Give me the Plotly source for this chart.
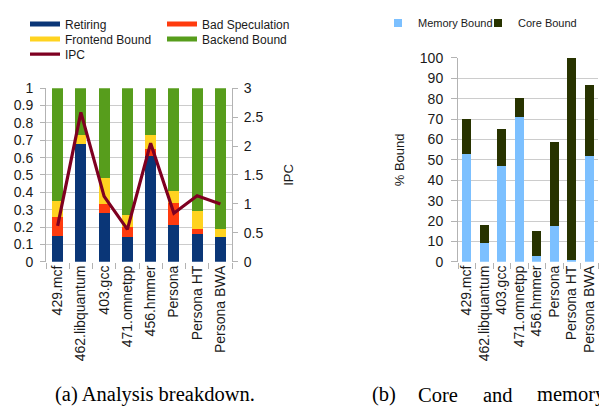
import plotly.graph_objects as go

W, H = 607, 410
# the page body adds an 8px margin; positions below are given in window pixels
OX, OY = 8, 8


def px(x):
    return (x - OX) / W


def py(y):
    return 1 - (y - OY) / H


categories = ["429.mcf", "462.libquantum", "403.gcc", "471.omnetpp",
              "456.hmmer", "Persona", "Persona HT", "Persona BWA"]

# (a) analysis breakdown (fractions, stacked to 1)
retiring = [0.15, 0.68, 0.28, 0.14, 0.61, 0.21, 0.16, 0.145]
bad_speculation = [0.11, 0.0, 0.05, 0.06, 0.04, 0.13, 0.03, 0.0]
frontend_bound = [0.09, 0.05, 0.15, 0.07, 0.08, 0.07, 0.10, 0.045]
backend_bound = [0.65, 0.27, 0.52, 0.73, 0.27, 0.59, 0.71, 0.81]
ipc = [0.62, 2.58, 1.13, 0.56, 2.05, 0.84, 1.14, 1.0]

# (b) core and memory bound (%)
memory_bound = [53, 9, 47, 71, 3, 17.5, 1, 52]
core_bound = [17, 9, 18, 9.5, 12, 41.5, 99, 34.5]

C_RET = "#0a3677"
C_BAD = "#ff3b0e"
C_FRONT = "#ffd320"
C_BACK = "#579d1c"
C_IPC = "#7e0021"
C_MEM = "#7cc0ff"
C_CORE = "#283300"

FONT = "Liberation Sans"
TXT = "#1a1a1a"
GRID = "#cccccc"
LINE = "#b3b3b3"

fig = go.Figure()

for name, vals, col in [("Retiring", retiring, C_RET),
                        ("Bad Speculation", bad_speculation, C_BAD),
                        ("Frontend Bound", frontend_bound, C_FRONT),
                        ("Backend Bound", backend_bound, C_BACK)]:
    fig.add_trace(go.Bar(x=categories, y=vals, name=name, marker_color=col,
                         marker_line_width=0, width=0.47, showlegend=False,
                         xaxis="x", yaxis="y"))

fig.add_trace(go.Scatter(x=categories, y=ipc, name="IPC", mode="lines",
                         line=dict(color=C_IPC, width=3.2),
                         xaxis="x", yaxis="y2", legend="legend5"))

leg_items = [("Retiring", C_RET, "legend"),
             ("Bad Speculation", C_BAD, "legend2"),
             ("Frontend Bound", C_FRONT, "legend3"),
             ("Backend Bound", C_BACK, "legend4")]
for name, col, lg in leg_items:
    fig.add_trace(go.Scatter(x=[None], y=[None], mode="lines", name=name,
                             line=dict(color=col, width=5), legend=lg,
                             xaxis="x", yaxis="y"))

fig.add_trace(go.Bar(x=categories, y=memory_bound, name="Memory Bound",
                     marker_color=C_MEM, marker_line_width=0, width=0.51,
                     showlegend=False, xaxis="x2", yaxis="y3"))
fig.add_trace(go.Bar(x=categories, y=core_bound, name="Core Bound",
                     marker_color=C_CORE, marker_line_width=0, width=0.51,
                     showlegend=False, xaxis="x2", yaxis="y3"))
for name, col, lg in [("Memory Bound", C_MEM, "legend6"),
                      ("Core Bound", C_CORE, "legend7")]:
    fig.add_trace(go.Scatter(x=[None], y=[None], mode="markers", name=name,
                             marker=dict(color=col, symbol="square", size=8),
                             legend=lg, xaxis="x2", yaxis="y3"))


def leg(text_x, text_y, size):
    # legend text starts 40px right of the legend anchor (plus page margin)
    return dict(x=(text_x - 48) / W, y=1 - (text_y - 18) / H,
                xanchor="left", yanchor="middle",
                orientation="h", bgcolor="rgba(0,0,0,0)", borderwidth=0,
                font=dict(family=FONT, size=size, color=TXT), itemwidth=30)


ytop_a = 77
ybot = 261
ytop_b = 45

fig.update_layout(
    width=W, height=H, margin=dict(l=0, r=0, t=0, b=0),
    paper_bgcolor="white", plot_bgcolor="white",
    barmode="stack", bargap=0.5,
    font=dict(family=FONT, color=TXT),
    legend=leg(65, 19, 12),
    legend2=leg(202, 19, 12),
    legend3=leg(65, 35, 12),
    legend4=leg(202, 35, 12),
    legend5=leg(65, 51, 12),
    legend6=leg(418, 18, 11),
    legend7=leg(518, 18, 11),
    xaxis=dict(domain=[px(46), px(232)], anchor="y", type="category",
               tickangle=-90, tickson="boundaries", ticks="outside",
               ticklen=6, tickcolor=LINE, showgrid=False, showline=False,
               tickfont=dict(size=14, family=FONT, color=TXT)),
    yaxis=dict(domain=[py(ybot), py(ytop_a)], anchor="x",
               range=[0, 1], dtick=0.1, ticks="outside", ticklen=5,
               tickcolor=LINE, showgrid=True, gridcolor=GRID, gridwidth=1,
               showline=True, linecolor=LINE, zeroline=False,
               ticklabelstandoff=4,
               tickfont=dict(size=14, family=FONT, color=TXT)),
    yaxis2=dict(overlaying="y", side="right", anchor="x", range=[0, 3],
                dtick=0.5, ticks="outside", ticklen=5, tickcolor=LINE,
                showgrid=False, showline=True, linecolor=LINE,
                zeroline=False, ticklabelstandoff=3,
                tickfont=dict(size=14, family=FONT, color=TXT),
                title=dict(text="IPC", standoff=21,
                           font=dict(size=13, family=FONT, color=TXT))),
    xaxis2=dict(domain=[px(458), px(598)], anchor="y3", type="category",
                tickangle=-90, tickson="boundaries", ticks="outside",
                ticklen=6, tickcolor=LINE, showgrid=False, showline=False,
                tickfont=dict(size=14, family=FONT, color=TXT)),
    yaxis3=dict(domain=[py(ybot), py(ytop_b)], anchor="x2",
                range=[0, 100], dtick=10, ticks="outside", ticklen=6,
                tickcolor=LINE, showgrid=True, gridcolor=GRID,
                showline=True, linecolor=LINE, zeroline=False,
                ticklabelstandoff=5,
                tickfont=dict(size=14, family=FONT, color=TXT),
                title=dict(text="% Bound", standoff=12,
                           font=dict(size=13, family=FONT, color=TXT))),
)

SERIF = "Liberation Serif"
caps = [("(a) Analysis breakdown.", 155),
        ("(b)", 384), ("Core", 438), ("and", 498), ("memory", 571)]
for text, cx in caps:
    fig.add_annotation(text=text, x=px(cx), y=py(402), xref="paper",
                       yref="paper", showarrow=False, xanchor="center",
                       yanchor="middle",
                       font=dict(family=SERIF, size=20.5, color="#000000"))

fig.write_html("out.html")
